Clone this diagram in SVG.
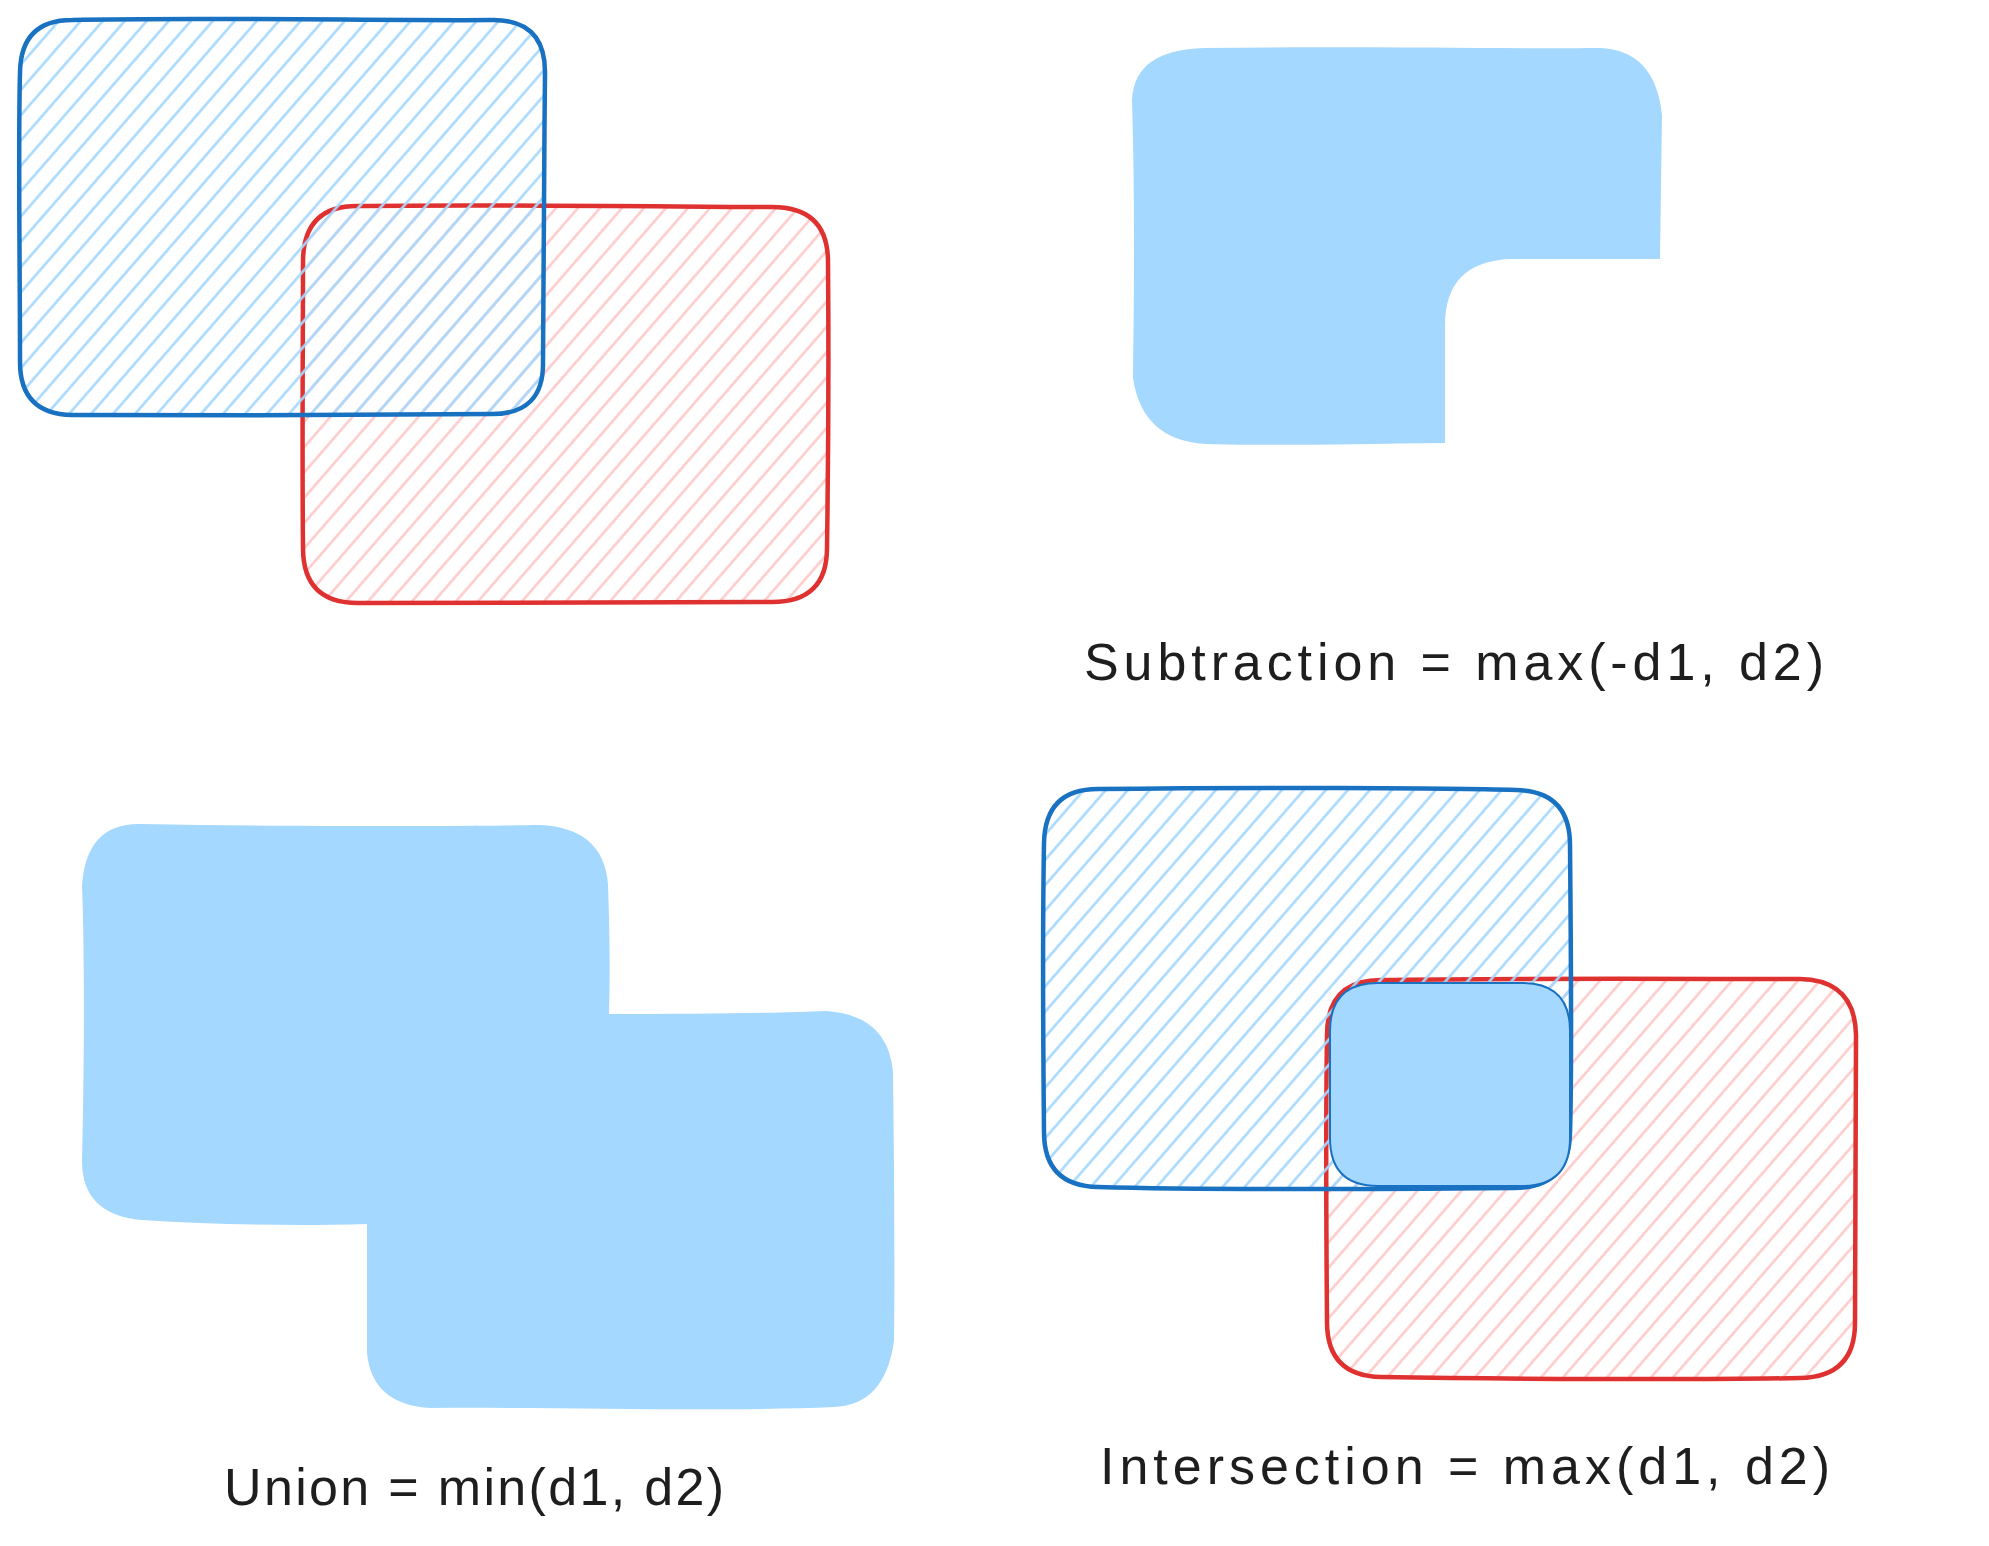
<svg xmlns="http://www.w3.org/2000/svg" width="1989" height="1546" viewBox="0 0 1989 1546">
<style>
.bs{stroke:#1971c2;stroke-width:4.5;stroke-linejoin:round}
.rs{stroke:#e03131;stroke-width:4.5;stroke-linejoin:round}
.hb{fill:url(#hatchBlue)}
.hr{fill:url(#hatchRed)}
.solid{fill:#a5d8ff}
.lbl{font-family:"Liberation Sans",Arial,sans-serif;font-size:52px;fill:#1e1e1e}
</style>
<defs>
<pattern id="hatchBlue" width="24" height="16.6" patternUnits="userSpaceOnUse" patternTransform="rotate(-49)">
<line x1="-2" y1="8.3" x2="26" y2="8.3" stroke="#a5d8ff" stroke-width="2.5"/>
</pattern>
<pattern id="hatchRed" width="24" height="16.6" patternUnits="userSpaceOnUse" patternTransform="rotate(-49)">
<line x1="-2" y1="8.3" x2="26" y2="8.3" stroke="#ffc9c9" stroke-width="2.5"/>
</pattern>
</defs>
<rect width="1989" height="1546" fill="#ffffff"/>

<g id="overlap-red">
<path class="hr rs" d="M 357 206 C 500 204, 700 207, 772 207 Q 828 207, 828 262 C 829 380, 828 480, 827 548 Q 827 602, 772 602 C 650 603, 450 602, 358 603 Q 303 603, 303 548 C 302 450, 303 330, 303 262 Q 303 206, 357 206 Z"/>
</g>
<g id="overlap-blue">
<path class="hb bs" d="M 72 20 C 200 17, 400 21, 493 20 Q 545 20, 545 72 C 544 180, 543 300, 543 362 Q 544 414, 492 414 C 380 415, 200 416, 72 415 Q 20 414, 20 362 C 20 260, 18 150, 20 72 Q 21 20, 72 20 Z"/>
</g>

<g id="subtraction-shape">
<path class="solid" d="M 1204 48 C 1350 46, 1500 49, 1600 48 Q 1655 50, 1662 115 L 1660 259 L 1510 259 Q 1445 262, 1445 325 L 1445 443 C 1350 444, 1280 446, 1205 444 Q 1142 440, 1133 378 C 1134 300, 1135 200, 1132 100 Q 1134 50, 1204 48 Z"/>
</g>
<g id="subtraction-label">
<text class="lbl" x="1084" y="680" textLength="740" lengthAdjust="spacing">Subtraction = max(-d1, d2)</text>
</g>

<g id="union-shape">
<path class="solid" d="M 142 824 C 300 827, 480 826, 540 825 Q 604 828, 608 885 C 610 940, 610 980, 609 1014 C 700 1014, 780 1013, 826 1011 Q 888 1015, 893 1072 C 894 1150, 895 1260, 894 1341 Q 885 1405, 834 1407 C 720 1412, 560 1407, 431 1408 Q 372 1405, 367 1353 L 367 1224 C 300 1226, 220 1225, 142 1220 Q 82 1215, 82 1161 C 84 1080, 85 960, 82 886 Q 86 822, 142 824 Z"/>
</g>
<g id="union-label">
<text class="lbl" x="224" y="1505" textLength="500" lengthAdjust="spacing">Union = min(d1, d2)</text>
</g>

<g id="intersection-red">
<path class="hr rs" d="M 1381 980 C 1500 978, 1700 979, 1800 979 Q 1855 980, 1856 1035 C 1855 1150, 1856 1260, 1855 1323 Q 1855 1377, 1800 1378 C 1700 1380, 1500 1379, 1381 1377 Q 1327 1376, 1327 1322 C 1326 1200, 1326 1100, 1327 1035 Q 1327 980, 1381 980 Z"/>
</g>
<g id="intersection-blue">
<path class="hb bs" d="M 1098 789 C 1250 787, 1450 788, 1516 790 Q 1570 791, 1570 845 C 1571 950, 1572 1070, 1570 1133 Q 1569 1188, 1514 1188 C 1400 1189, 1200 1190, 1098 1187 Q 1044 1186, 1044 1132 C 1043 1030, 1043 900, 1044 843 Q 1045 789, 1098 789 Z"/>
</g>
<g id="intersection-result">
<path class="solid" stroke="#1971c2" stroke-width="2" d="M 1378 983 L 1522 983 Q 1570 983, 1570 1031 L 1570 1138 Q 1570 1186, 1522 1186 L 1378 1186 Q 1330 1186, 1330 1138 L 1330 1031 Q 1330 983, 1378 983 Z"/>
</g>
<g id="intersection-label">
<text class="lbl" x="1100" y="1484" textLength="730" lengthAdjust="spacing">Intersection = max(d1, d2)</text>
</g>
</svg>
